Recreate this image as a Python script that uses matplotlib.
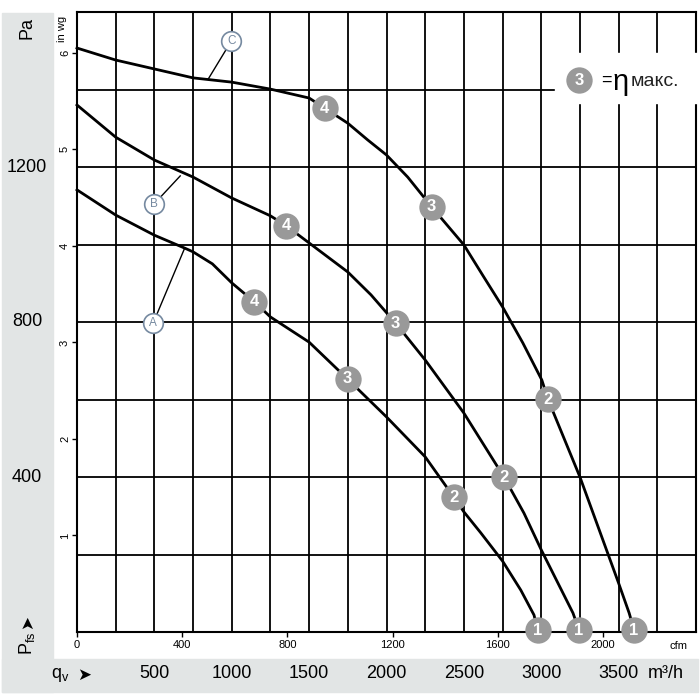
import matplotlib
matplotlib.use('Agg')
import matplotlib.pyplot as plt
import matplotlib.transforms as mtransforms
from matplotlib.patches import Rectangle

plt.rcParams['font.family'] = ['Liberation Sans Narrow', 'Liberation Sans', 'DejaVu Sans']

# kennlinien: q in m3/h, p in Pa
q_a = [0, 250, 500, 700, 750, 875, 1000, 1146, 1250, 1500, 1748, 2000, 2250, 2435, 2500,
       2609, 2750, 2868, 2953, 2978]
p_a = [1141, 1076, 1024, 990, 981, 950, 901, 852, 813, 748, 653, 555, 452, 348, 310,
       256, 183, 108, 44, 5]
q_b = [0, 250, 500, 750, 1000, 1250, 1353, 1500, 1750, 1900, 2059, 2250, 2500, 2759, 2888,
       3000, 3205, 3244]
p_b = [1360, 1277, 1218, 1174, 1120, 1074, 1048, 1004, 929, 870, 797, 702, 565, 400, 307,
       212, 49, 5]
q_c = [0, 250, 500, 750, 1000, 1250, 1500, 1600, 1750, 1878, 2000, 2137, 2292, 2500, 2629,
       2750, 2881, 3004, 3043, 3250, 3500, 3568, 3600]
p_c = [1507, 1476, 1453, 1430, 1419, 1401, 1378, 1352, 1313, 1270, 1231, 1174, 1097, 999, 916,
       839, 746, 650, 601, 400, 126, 49, 5]

# betriebspunkte 4,3,2,1
punkt_text = ['4', '3', '2', '1']
punkt_q_a = [1146, 1748, 2435, 2978]
punkt_p_a = [852, 653, 348, 5]
punkt_q_b = [1353, 2059, 2759, 3244]
punkt_p_b = [1048, 797, 400, 5]
punkt_q_c = [1600, 2292, 3043, 3600]
punkt_p_c = [1352, 1097, 601, 5]

# kurven-bezeichnung: kreis und fusspunkt auf der kurve
kurven_name = ['A', 'B', 'C']
kreis_q = [492, 499, 997]
kreis_p = [797, 1105, 1525]
fuss_q = [693, 667, 848]
fuss_p = [988, 1177, 1427]

m3h_labels = [500, 1000, 1500, 2000, 2500, 3000, 3500]
pa_labels = [400, 800, 1200]
cfm_ticks = [0, 400, 800, 1200, 1600, 2000]
inwg_ticks = [1, 2, 3, 4, 5, 6]

grau = '#e2e5e5'
punkt_farbe = '#999999'
kreis_farbe = '#7589a0'

fig = plt.figure(figsize=(7, 7), dpi=100)
fig.patches.append(Rectangle((2/700, 8/700), 51/700, 679/700, transform=fig.transFigure,
                             color=grau, zorder=-1))
fig.patches.append(Rectangle((2/700, 8/700), 696/700, 33/700, transform=fig.transFigure,
                             color=grau, zorder=-1))

ax = fig.add_axes([77/700, 68/700, 619/700, 620/700])
ax.set_xlim(0, 4000)
ax.set_ylim(0, 1600)
ax.set_xticks(range(0, 4001, 250))
ax.set_yticks(range(0, 1601, 200))
ax.grid(True, color='black', lw=1.3)
ax.tick_params(length=0, labelbottom=False, labelleft=False)
for s in ax.spines.values():
    s.set_linewidth(1.5)

for q, p in [(q_a, p_a), (q_b, p_b), (q_c, p_c)]:
    ax.plot(q, p, color='black', lw=2, zorder=4, clip_on=False, solid_joinstyle='round')

for mq, mp in [(punkt_q_a, punkt_p_a), (punkt_q_b, punkt_p_b), (punkt_q_c, punkt_p_c)]:
    ax.scatter(mq, mp, s=360, color=punkt_farbe, zorder=5, clip_on=False, linewidths=0)
    for i in range(len(mq)):
        ax.text(mq[i], mp[i], punkt_text[i], color='white', fontsize=12, fontweight='bold',
                ha='center', va='center', zorder=6, family=['Liberation Sans', 'DejaVu Sans'])

for i in range(len(kurven_name)):
    ax.plot([kreis_q[i], fuss_q[i]], [kreis_p[i], fuss_p[i]], color='black', lw=1, zorder=4)
    ax.scatter(kreis_q[i], kreis_p[i], s=200, facecolor='white', edgecolor=kreis_farbe,
               linewidths=1.2, zorder=5)
    ax.text(kreis_q[i], kreis_p[i], kurven_name[i], color=kreis_farbe, fontsize=8.5,
            ha='center', va='center', zorder=6)

# legende oben rechts
ax.add_patch(Rectangle((0.772, 0.853), 0.24, 0.081, transform=ax.transAxes, color='white',
                       zorder=3, clip_on=False))
ax.scatter([3245], [1424], s=360, color=punkt_farbe, zorder=5, linewidths=0)
ax.text(3245, 1424, '3', color='white', fontsize=12, fontweight='bold', ha='center',
        va='center', zorder=6, family=['Liberation Sans', 'DejaVu Sans'])
ax.annotate('=', (3245, 1424), xytext=(15.5, 0), textcoords='offset points', fontsize=13,
            ha='left', va='center', zorder=6, family=['Liberation Sans', 'DejaVu Sans'])
ax.annotate('η', (3245, 1424), xytext=(24, -1), textcoords='offset points', fontsize=21,
            ha='left', va='center', zorder=6, family=['Liberation Sans', 'DejaVu Sans'])
ax.annotate('макс.', (3245, 1424), xytext=(37, -1), textcoords='offset points', fontsize=14,
            ha='left', va='center', zorder=6, color='#222222',
            family=['Liberation Sans', 'DejaVu Sans'])

# cfm unten
cfm = ax.secondary_xaxis('bottom', functions=(lambda q: q / 1.699, lambda c: c * 1.699))
cfm.set_xticks(cfm_ticks)
cfm.tick_params(length=3.5, width=1, labelsize=8, pad=2)
cfm.spines['bottom'].set_visible(False)
ax.text(1.0 - 18/619, -14/620, 'cfm', transform=ax.transAxes, fontsize=8, ha='center', va='center')

# in wg links
inwg = ax.secondary_yaxis('left', functions=(lambda p: p / 249.09, lambda w: w * 249.09))
inwg.set_yticks(inwg_ticks)
inwg.set_yticklabels([str(t) for t in inwg_ticks], rotation=90, va='center')
inwg.tick_params(length=3.5, width=1, labelsize=8, pad=1.5)
inwg.spines['left'].set_visible(False)
ax.text(-15/619, 0.972, 'in wg', transform=ax.transAxes, fontsize=8, rotation=90,
        ha='center', va='center')

# grosse beschriftung in den grauen streifen
trans_x = mtransforms.blended_transform_factory(ax.transData, ax.transAxes)
for v in m3h_labels:
    ax.text(v, -41/620, str(v), transform=trans_x, fontsize=13, ha='center', va='center')
trans_y = mtransforms.blended_transform_factory(ax.transAxes, ax.transData)
for v in pa_labels:
    ax.text(-50/619, v, str(v), transform=trans_y, fontsize=13, ha='center', va='center')

fig.text(666/700, 1 - 673/700, 'm³/h', fontsize=13, ha='center', va='center')
fig.text(27/700, 1 - 28/700, 'Pa', fontsize=13, rotation=90, ha='center', va='center')
fig.text(60/700, 1 - 675/700, r'$\mathregular{q_v}$', fontsize=13, ha='center', va='center')
fig.text(84/700, 1 - 675/700, '➤', fontsize=12, ha='center', va='center', family=['DejaVu Sans'])
fig.text(27/700, 1 - 643/700, r'$\mathregular{P_{fs}}$', fontsize=13, rotation=90,
         ha='center', va='center')
fig.text(27/700, 1 - 622/700, '➤', fontsize=12, rotation=90, ha='center', va='center',
         family=['DejaVu Sans'])

fig.savefig('out.png', dpi=100)
